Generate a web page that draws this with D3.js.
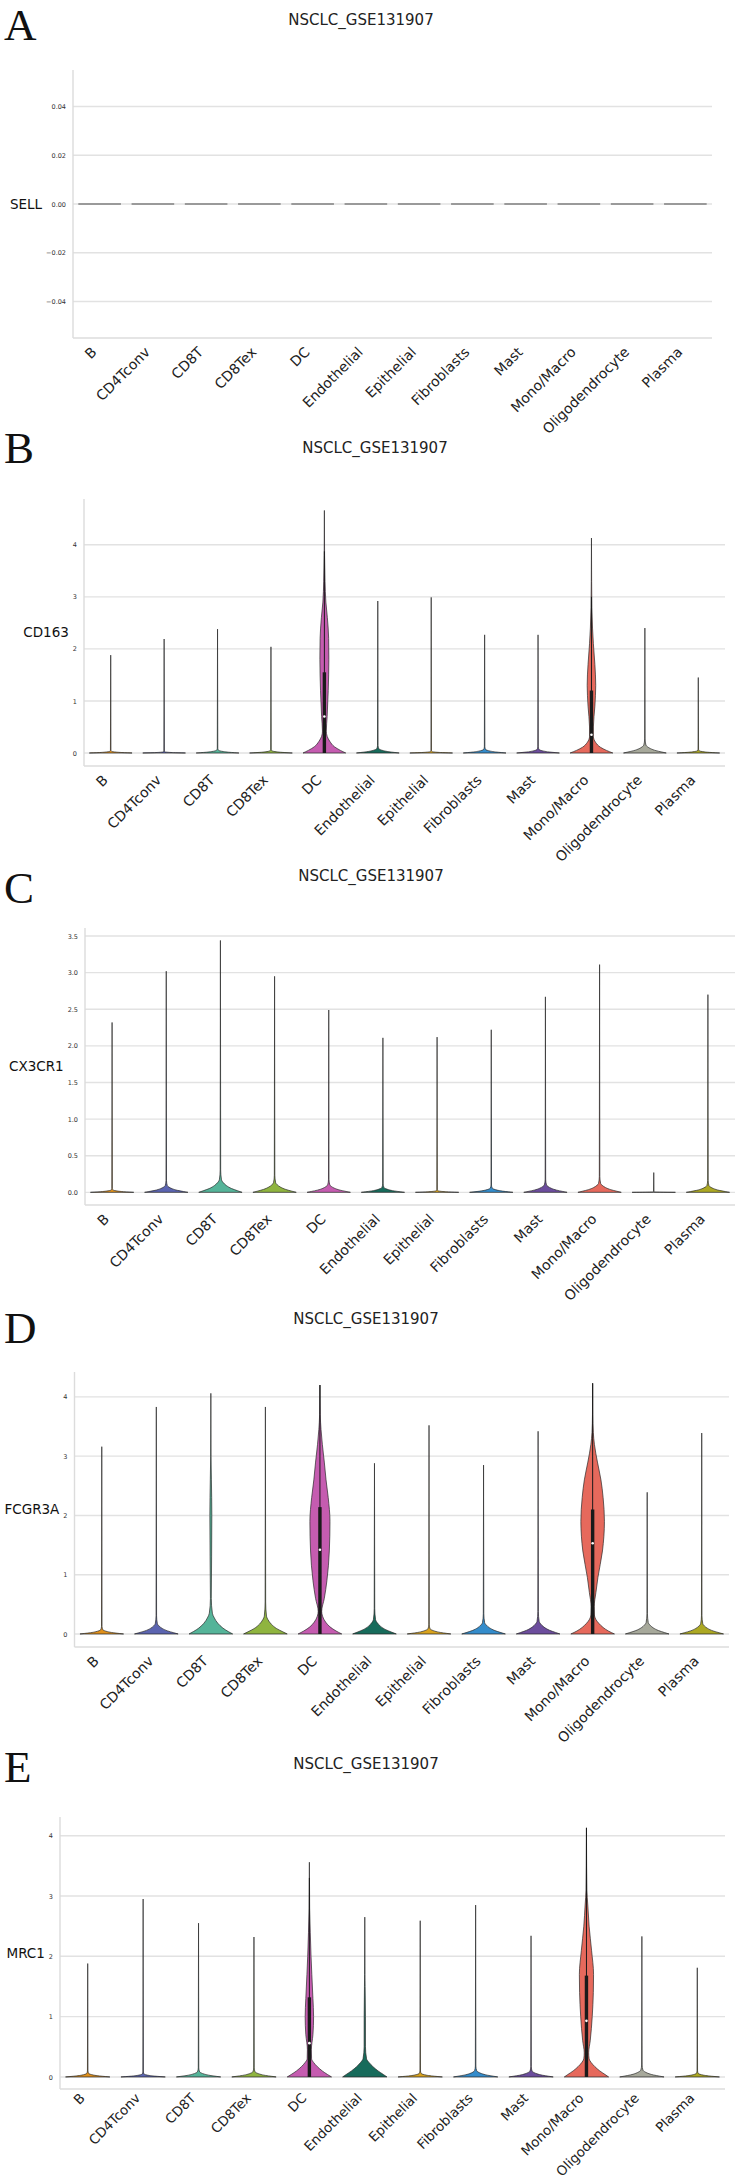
<!DOCTYPE html>
<html><head><meta charset="utf-8">
<script src="https://cdn.jsdelivr.net/npm/d3@7"></script>
<style>body{margin:0;background:#fff}svg{display:block}</style>
</head><body><svg id="c" width="736" height="2184"></svg>
<script>
// ---------------- DATA ----------------
const categories = ["B","CD4Tconv","CD8T","CD8Tex","DC","Endothelial","Epithelial","Fibroblasts","Mast","Mono/Macro","Oligodendrocyte","Plasma"];
const palette = ["#E0901B","#5B64B0","#55B499","#8FB43F","#C55CB0","#176B5B","#D9A31E","#348CCB","#6C4D9D","#E6695C","#A7A99B","#ACA823"];
const datasetTitle = "NSCLC_GSE131907";
const genes = ["SELL","CD163","CX3CR1","FCGR3A","MRC1"];
const panelLetters = ["A","B","C","D","E"];

// maximum expression (top of each violin)
const sellMax   = [0,0,0,0,0,0,0,0,0,0,0,0];
const cd163Max  = [1.88,2.19,2.38,2.04,4.66,2.92,2.99,2.27,2.27,4.13,2.40,1.45];
const cx3cr1Max = [2.32,3.02,3.44,2.95,2.49,2.11,2.12,2.22,2.67,3.11,0.27,2.70];
const fcgr3aMax = [3.16,3.83,4.06,3.83,4.20,2.88,3.52,2.85,3.42,4.23,2.39,3.39];
const mrc1Max   = [1.88,2.95,2.55,2.32,3.56,2.65,2.59,2.85,2.34,4.13,2.33,1.81];

// height of the dense bump at zero
const sellBump   = [0,0,0,0,0,0,0,0,0,0,0,0];
const cd163Bump  = [0.03,0.02,0.05,0.04,0.37,0.08,0.025,0.065,0.065,0.24,0.15,0.04];
const cx3cr1Bump = [0.03,0.09,0.17,0.13,0.10,0.064,0.02,0.055,0.10,0.12,0.005,0.09];
const fcgr3aBump = [0.07,0.17,0.35,0.30,0.33,0.24,0.085,0.19,0.21,0.30,0.19,0.17];
const mrc1Bump   = [0.055,0.045,0.083,0.083,0.30,0.28,0.055,0.10,0.094,0.30,0.11,0.055];

// explicit violin profiles [value, relative width] for multi-modal violins
const cd163DC   = [[0,1],[0.05,0.75],[0.12,0.47],[0.22,0.26],[0.32,0.13],[0.42,0.09],[0.7,0.13],[1.2,0.18],[1.8,0.21],[2.2,0.2],[2.6,0.14],[2.9,0.07],[3.3,0.03],[3.8,0.01],[4.66,0]];
const cd163Mono = [[0,1],[0.05,0.7],[0.11,0.42],[0.2,0.2],[0.32,0.09],[0.5,0.09],[0.9,0.16],[1.3,0.2],[1.7,0.16],[2.1,0.09],[2.4,0.05],[2.8,0.02],[3.3,0.008],[4.13,0]];
const fcgr3aDC  = [[0,1],[0.05,0.74],[0.12,0.46],[0.2,0.26],[0.3,0.12],[0.38,0.08],[0.6,0.2],[0.9,0.32],[1.4,0.43],[1.9,0.46],[2.3,0.38],[2.6,0.28],[2.9,0.2],[3.2,0.11],[3.45,0.05],[3.7,0.015],[4.2,0]];
const fcgr3aMono= [[0,1],[0.05,0.72],[0.11,0.48],[0.18,0.28],[0.25,0.14],[0.32,0.08],[0.46,0.07],[0.7,0.15],[0.95,0.24],[1.4,0.45],[1.9,0.54],[2.3,0.48],[2.6,0.38],[2.9,0.22],[3.2,0.08],[3.4,0.03],[3.7,0.008],[4.23,0]];
const fcgr3aCD8T= [[0,1],[0.04,0.8],[0.1,0.55],[0.18,0.32],[0.27,0.16],[0.35,0.07],[0.6,0.02],[1.3,0.035],[2.0,0.045],[2.6,0.025],[3.0,0.008],[4.06,0]];
const mrc1DC    = [[0,1],[0.04,0.82],[0.1,0.58],[0.17,0.36],[0.24,0.19],[0.3,0.1],[0.45,0.09],[0.7,0.16],[1.0,0.19],[1.3,0.16],[1.7,0.11],[2.0,0.075],[2.4,0.04],[2.8,0.012],[3.56,0]];
const mrc1Endo  = [[0,1],[0.04,0.84],[0.1,0.6],[0.17,0.37],[0.24,0.19],[0.3,0.08],[0.5,0.03],[1.0,0.028],[1.5,0.015],[1.7,0.008],[2.65,0]];
const mrc1Mono  = [[0,1],[0.04,0.84],[0.1,0.6],[0.17,0.38],[0.24,0.21],[0.3,0.12],[0.4,0.1],[0.6,0.17],[1.0,0.26],[1.4,0.31],[1.7,0.32],[2.1,0.23],[2.5,0.12],[2.85,0.06],[3.1,0.02],[3.5,0.008],[4.13,0]];

// inner box [q1, median, q3]
const cd163DCBox = [0,0.7,1.55],  cd163MonoBox = [0,0.35,1.2];
const fcgr3aDCBox = [0,1.42,2.14], fcgr3aMonoBox = [0,1.53,2.1];
const mrc1DCBox = [0,0.56,1.32],  mrc1MonoBox = [0,0.93,1.68];

// tick labels
const sellTicks   = [-0.04,-0.02,0,0.02,0.04];
const cd163Ticks  = [0,1,2,3,4];
const cx3cr1Ticks = [0,0.5,1,1.5,2,2.5,3,3.5];
const fcgr3aTicks = [0,1,2,3,4];
const mrc1Ticks   = [0,1,2,3,4];

// generic shape of a zero-inflated bump (relative height, relative width)
const bumpShape = [[0,1],[0.12,0.8],[0.3,0.52],[0.55,0.27],[0.8,0.12],[1,0.05]];

// ---------------- LAYOUT ----------------
const panels = [
 {gene:genes[0],letter:panelLetters[0],letterY:40,titleX:361,titleY:25,top:70,bottom:338,left:73,right:712,domain:[-0.055,0.055],ticks:sellTicks,fmt:".2f",max:sellMax,bump:sellBump,bodies:{},boxes:{},lab:[14,15]},
 {gene:genes[1],letter:panelLetters[1],letterY:463,titleX:375,titleY:453,top:499,bottom:766,left:84,right:725,domain:[-0.25,4.88],ticks:cd163Ticks,fmt:"d",max:cd163Max,bump:cd163Bump,bodies:{"DC":cd163DC,"Mono/Macro":cd163Mono},boxes:{"DC":cd163DCBox,"Mono/Macro":cd163MonoBox},lab:[14,15]},
 {gene:genes[2],letter:panelLetters[2],letterY:903,titleX:371,titleY:881,top:928,bottom:1205,left:85,right:735,domain:[-0.173,3.61],ticks:cx3cr1Ticks,fmt:".1f",max:cx3cr1Max,bump:cx3cr1Bump,bodies:{},boxes:{},lab:[14,15]},
 {gene:genes[3],letter:panelLetters[3],letterY:1343,titleX:366,titleY:1324,top:1372,bottom:1647,left:74.5,right:729,domain:[-0.22,4.42],ticks:fcgr3aTicks,fmt:"d",max:fcgr3aMax,bump:fcgr3aBump,bodies:{"DC":fcgr3aDC,"Mono/Macro":fcgr3aMono,"CD8T":fcgr3aCD8T},boxes:{"DC":fcgr3aDCBox,"Mono/Macro":fcgr3aMonoBox},lab:[14,15]},
 {gene:genes[4],letter:panelLetters[4],letterY:1782,titleX:366,titleY:1769,top:1817,bottom:2089,left:60,right:725,domain:[-0.2,4.31],ticks:mrc1Ticks,fmt:"d",max:mrc1Max,bump:mrc1Bump,bodies:{"DC":mrc1DC,"Endothelial":mrc1Endo,"Mono/Macro":mrc1Mono},boxes:{"DC":mrc1DCBox,"Mono/Macro":mrc1MonoBox},lab:[13.4,10]}
];

const svg = d3.select("#c");
const color = d3.scaleOrdinal().domain(categories).range(palette);

panels.forEach(p => {
  const g = svg.append("g");
  const x = d3.scaleBand().domain(categories).range([p.left, p.right]).padding(0);
  const y = d3.scaleLinear().domain(p.domain).range([p.bottom, p.top]);
  const hw = x.bandwidth() * 0.4;

  // panel letter & title
  g.append("text").attr("x", 4).attr("y", p.letterY).text(p.letter)
    .attr("font-family","'Liberation Serif','Times New Roman',serif").attr("font-size",45).attr("fill","#111");
  g.append("text").attr("x", p.titleX).attr("y", p.titleY).attr("text-anchor","middle").text(datasetTitle)
    .attr("font-family","'DejaVu Sans',sans-serif").attr("font-size",15).attr("fill","#222");

  // grid
  g.append("g").selectAll("line").data(p.ticks).join("line")
    .attr("x1", p.left).attr("x2", p.right).attr("y1", d => y(d)).attr("y2", d => y(d))
    .attr("stroke","#e2e2e2").attr("stroke-width",1.4);

  // spines
  g.append("line").attr("x1",p.left).attr("x2",p.left).attr("y1",p.top).attr("y2",p.bottom).attr("stroke","#dcdcdc").attr("stroke-width",1.4);
  g.append("line").attr("x1",p.left).attr("x2",p.right).attr("y1",p.bottom).attr("y2",p.bottom).attr("stroke","#dcdcdc").attr("stroke-width",1.4);

  // y tick labels via axis
  const yAxis = d3.axisLeft(y).tickValues(p.ticks).tickFormat(d3.format(p.fmt)).tickSize(0).tickPadding(7);
  const ya = g.append("g").attr("transform",`translate(${p.left},0)`).call(yAxis);
  ya.select(".domain").remove();
  ya.selectAll("text").attr("font-family","'DejaVu Sans',sans-serif").attr("font-size",6.5).attr("fill","#333");
  let minX = p.left;
  ya.selectAll("text").each(function(){ const b=this.getBBox(); minX=Math.min(minX, p.left + b.x); });

  // y label
  g.append("text").attr("x", minX - 4).attr("y", (p.top+p.bottom)/2).attr("dy","0.35em")
    .attr("text-anchor","end").text(p.gene)
    .attr("font-family","'DejaVu Sans',sans-serif").attr("font-size",13.5).attr("fill","#111");

  // x labels via axis
  const xAxis = d3.axisBottom(x).tickSize(0).tickPadding(0);
  const xa = g.append("g").attr("transform",`translate(0,${p.bottom})`).call(xAxis);
  xa.select(".domain").remove();
  xa.selectAll("text").attr("font-family","'DejaVu Sans',sans-serif").attr("font-size",p.lab[0]).attr("fill","#222")
    .attr("text-anchor","end").attr("dy",0).attr("y",0)
    .attr("transform",`translate(-2,${p.lab[1]}) rotate(-45)`);

  // violins
  const area = d3.area().curve(d3.curveMonotoneY).y(d => y(d[0]));
  categories.forEach((c, i) => {
    const cx = x(c) + x.bandwidth()/2;
    const mx = p.max[i];
    if (mx === 0) {
      g.append("line").attr("x1", cx-hw).attr("x2", cx+hw).attr("y1", y(0)).attr("y2", y(0))
        .attr("stroke","#7f7f7f").attr("stroke-width",1.6);
      return;
    }
    let knots = p.bodies[c];
    if (!knots) {
      const h = p.bump[i];
      knots = bumpShape.map(([r,w]) => [r*h, w]);
      const t1 = Math.min(h*1.8, mx*0.5);
      if (t1 > h) knots.push([t1, 0.012]);
      knots.push([mx, 0]);
    }
    area.x0(d => cx - d[1]*hw).x1(d => cx + d[1]*hw);
    g.append("path").attr("d", area(knots)).attr("fill", color(c))
      .attr("stroke","#2a2a2a").attr("stroke-width",0.7).attr("stroke-linejoin","round");
    const bx = p.boxes[c];
    if (bx) {
      const [q1,med,q3] = bx;
      const wtop = Math.min(mx, q3 + 1.5*(q3-q1));
      g.append("line").attr("x1",cx).attr("x2",cx).attr("y1",y(q1)).attr("y2",y(wtop)).attr("stroke","#1a1a1a").attr("stroke-width",1);
      g.append("rect").attr("x",cx-1.7).attr("width",3.4).attr("y",y(q3)).attr("height",y(q1)-y(q3)).attr("fill","#1a1a1a");
      g.append("circle").attr("cx",cx).attr("cy",y(med)).attr("r",1.3).attr("fill","#fff");
    }
  });
});
</script></body></html>
